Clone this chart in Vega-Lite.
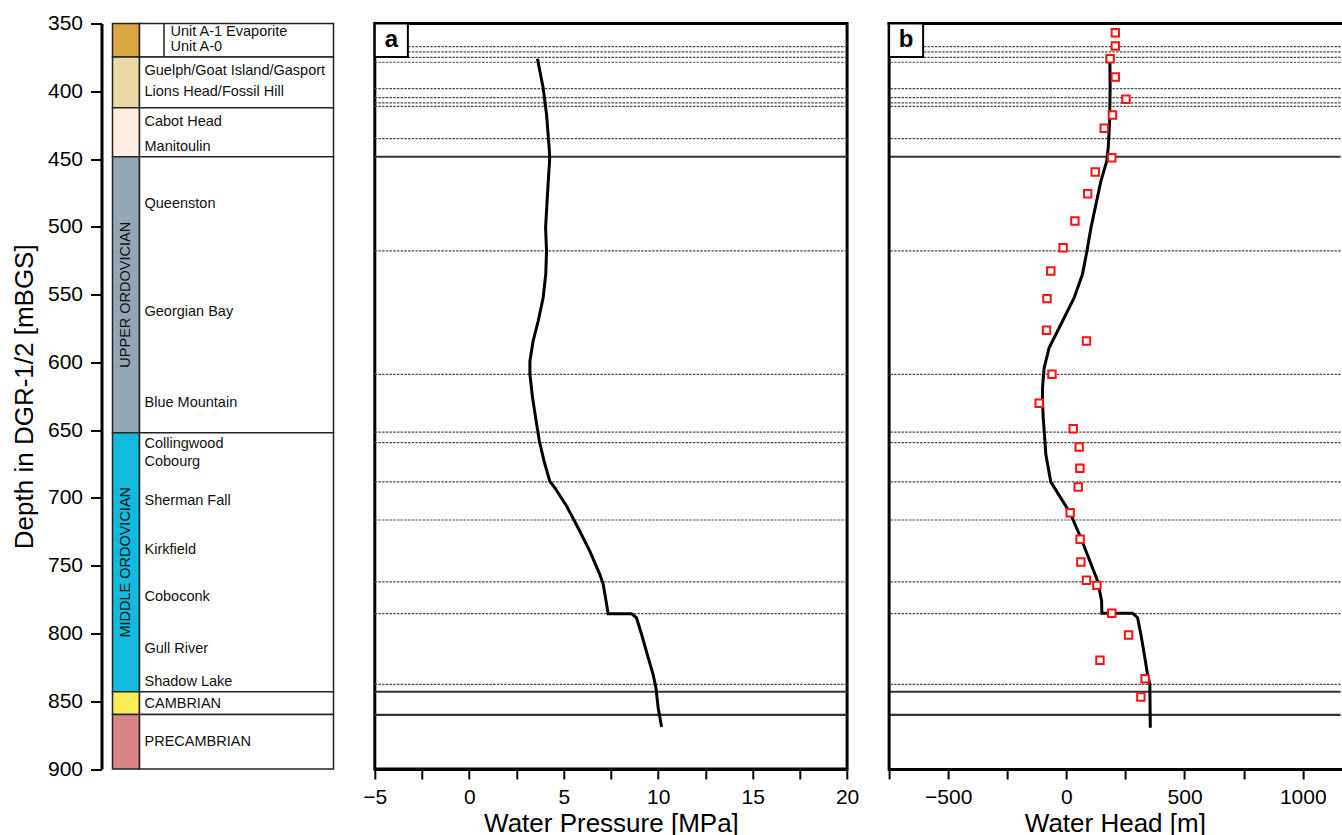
{
  "$schema": "https://vega.github.io/schema/vega-lite/v6.json",
  "padding": {"left": 10.5, "top": 12.5, "right": 0, "bottom": 0},
  "background": "white",
  "config": {
    "font": "Liberation Sans",
    "view": {"stroke": null},
    "axis": {
      "grid": false,
      "domainColor": "black",
      "tickColor": "black",
      "labelColor": "black",
      "titleColor": "black",
      "titleFontWeight": "normal",
      "labelFontSize": 21,
      "titleFontSize": 26,
      "domainWidth": 3,
      "tickWidth": 2,
      "labelFlush": false,
      "labelOverlap": false,
      "labelBound": false
    }
  },
  "datasets": {
    "strata": [
      {"unit": "Unit A", "top": 350, "bottom": 374.7},
      {"unit": "Guelph", "top": 374.7, "bottom": 412.1},
      {"unit": "Cabot Head", "top": 412.1, "bottom": 448.3},
      {"unit": "Upper Ordovician", "top": 448.3, "bottom": 651.9},
      {"unit": "Middle Ordovician", "top": 651.9, "bottom": 843},
      {"unit": "Cambrian", "top": 843, "bottom": 859.7},
      {"unit": "Precambrian", "top": 859.7, "bottom": 900}
    ],
    "formations": [
      {"name": "Unit A-1 Evaporite", "depth": 356.6, "unit": "Unit A"},
      {"name": "Unit A-0", "depth": 367.7, "unit": "Unit A"},
      {"name": "Guelph/Goat Island/Gasport", "depth": 385, "unit": "Guelph"},
      {"name": "Lions Head/Fossil Hill", "depth": 400.8, "unit": "Guelph"},
      {"name": "Cabot Head", "depth": 422.7, "unit": "Cabot Head"},
      {"name": "Manitoulin", "depth": 441, "unit": "Cabot Head"},
      {"name": "Queenston", "depth": 482.8, "unit": "Upper Ordovician"},
      {"name": "Georgian Bay", "depth": 563, "unit": "Upper Ordovician"},
      {"name": "Blue Mountain", "depth": 629.7, "unit": "Upper Ordovician"},
      {"name": "Collingwood", "depth": 659.9, "unit": "Middle Ordovician"},
      {"name": "Cobourg", "depth": 673.4, "unit": "Middle Ordovician"},
      {"name": "Sherman Fall", "depth": 702, "unit": "Middle Ordovician"},
      {"name": "Kirkfield", "depth": 738.5, "unit": "Middle Ordovician"},
      {"name": "Coboconk", "depth": 773.3, "unit": "Middle Ordovician"},
      {"name": "Gull River", "depth": 811.7, "unit": "Middle Ordovician"},
      {"name": "Shadow Lake", "depth": 835.9, "unit": "Middle Ordovician"},
      {"name": "CAMBRIAN", "depth": 852.1, "unit": "Cambrian"},
      {"name": "PRECAMBRIAN", "depth": 880.2, "unit": "Precambrian"}
    ],
    "eras": [
      {"name": "UPPER ORDOVICIAN", "depth": 550.1},
      {"name": "MIDDLE ORDOVICIAN", "depth": 747.5}
    ],
    "contacts": [
      {"depth": 367.1, "kind": "formation"},
      {"depth": 371.0, "kind": "formation"},
      {"depth": 375.0, "kind": "formation"},
      {"depth": 378.6, "kind": "formation"},
      {"depth": 398.1, "kind": "formation"},
      {"depth": 404.7, "kind": "formation"},
      {"depth": 408.6, "kind": "formation"},
      {"depth": 411.1, "kind": "formation"},
      {"depth": 435.0, "kind": "formation"},
      {"depth": 448.3, "kind": "system"},
      {"depth": 517.8, "kind": "formation"},
      {"depth": 608.8, "kind": "formation"},
      {"depth": 651.4, "kind": "formation"},
      {"depth": 659.2, "kind": "formation"},
      {"depth": 688.2, "kind": "formation"},
      {"depth": 716.3, "kind": "formation"},
      {"depth": 762.0, "kind": "formation"},
      {"depth": 785.4, "kind": "formation"},
      {"depth": 837.5, "kind": "formation"},
      {"depth": 843.0, "kind": "system"},
      {"depth": 860.0, "kind": "system"}
    ],
    "pressure": [
      {"depth": 376.0, "p": 3.61},
      {"depth": 397.4, "p": 3.91},
      {"depth": 417.0, "p": 4.09},
      {"depth": 441.6, "p": 4.23},
      {"depth": 449.0, "p": 4.26},
      {"depth": 476.0, "p": 4.14},
      {"depth": 500.6, "p": 4.04},
      {"depth": 517.8, "p": 4.09},
      {"depth": 535.0, "p": 4.05},
      {"depth": 552.3, "p": 3.91},
      {"depth": 569.5, "p": 3.65},
      {"depth": 584.2, "p": 3.38},
      {"depth": 599.0, "p": 3.21},
      {"depth": 608.8, "p": 3.21},
      {"depth": 626.0, "p": 3.35},
      {"depth": 643.2, "p": 3.54},
      {"depth": 658.0, "p": 3.71},
      {"depth": 672.8, "p": 3.96},
      {"depth": 687.6, "p": 4.26},
      {"depth": 692.5, "p": 4.53},
      {"depth": 706.0, "p": 5.15},
      {"depth": 722.0, "p": 5.76},
      {"depth": 739.2, "p": 6.38},
      {"depth": 756.4, "p": 6.91},
      {"depth": 763.7, "p": 7.09},
      {"depth": 778.5, "p": 7.27},
      {"depth": 785.4, "p": 7.35},
      {"depth": 785.4, "p": 8.59},
      {"depth": 788.4, "p": 8.85},
      {"depth": 800.6, "p": 9.12},
      {"depth": 817.9, "p": 9.47},
      {"depth": 830.1, "p": 9.73},
      {"depth": 840.0, "p": 9.88},
      {"depth": 854.8, "p": 10.0},
      {"depth": 869.0, "p": 10.18}
    ],
    "head": [
      {"depth": 378.9, "h": 184},
      {"depth": 397.4, "h": 185},
      {"depth": 421.9, "h": 183},
      {"depth": 441.6, "h": 177},
      {"depth": 451.4, "h": 171},
      {"depth": 466.2, "h": 146},
      {"depth": 483.4, "h": 125},
      {"depth": 500.6, "h": 104},
      {"depth": 517.8, "h": 87},
      {"depth": 535.0, "h": 68},
      {"depth": 552.3, "h": 33},
      {"depth": 571.9, "h": -23},
      {"depth": 589.2, "h": -73},
      {"depth": 604.0, "h": -94},
      {"depth": 618.7, "h": -101},
      {"depth": 628.5, "h": -101},
      {"depth": 640.8, "h": -98},
      {"depth": 650.6, "h": -94},
      {"depth": 667.8, "h": -87},
      {"depth": 688.2, "h": -66},
      {"depth": 710.9, "h": 15},
      {"depth": 729.4, "h": 61},
      {"depth": 761.3, "h": 132},
      {"depth": 776.0, "h": 149},
      {"depth": 785.1, "h": 150},
      {"depth": 785.1, "h": 280},
      {"depth": 788.4, "h": 301},
      {"depth": 800.6, "h": 315},
      {"depth": 817.9, "h": 332},
      {"depth": 830.1, "h": 343},
      {"depth": 837.5, "h": 353},
      {"depth": 869.5, "h": 355}
    ],
    "measured": [
      {"depth": 356.8, "h": 207},
      {"depth": 366.6, "h": 207},
      {"depth": 376.0, "h": 185},
      {"depth": 389.5, "h": 207},
      {"depth": 405.9, "h": 252},
      {"depth": 417.5, "h": 195},
      {"depth": 427.3, "h": 160},
      {"depth": 449.0, "h": 192},
      {"depth": 459.6, "h": 122},
      {"depth": 475.6, "h": 90},
      {"depth": 495.7, "h": 36},
      {"depth": 515.4, "h": -14},
      {"depth": 532.6, "h": -66},
      {"depth": 553.0, "h": -82},
      {"depth": 576.3, "h": -84},
      {"depth": 584.2, "h": 85},
      {"depth": 608.8, "h": -61},
      {"depth": 630.2, "h": -115},
      {"depth": 649.0, "h": 29},
      {"depth": 662.4, "h": 54},
      {"depth": 678.1, "h": 57},
      {"depth": 692.0, "h": 50},
      {"depth": 710.9, "h": 16},
      {"depth": 730.5, "h": 58},
      {"depth": 747.3, "h": 61},
      {"depth": 760.8, "h": 85},
      {"depth": 764.5, "h": 129},
      {"depth": 785.1, "h": 192},
      {"depth": 801.1, "h": 263},
      {"depth": 819.8, "h": 142},
      {"depth": 833.4, "h": 333},
      {"depth": 846.9, "h": 315}
    ]
  },
  "bounds": "flush",
  "spacing": 41.3,
  "resolve": {"scale": {"x": "independent", "y": "independent"}},
  "hconcat": [
    {
      "width": 221,
      "height": 745.5,
      "layer": [
        {
          "data": {"name": "strata"},
          "mark": {"type": "rect", "stroke": "#222", "strokeWidth": 1.5},
          "encoding": {
            "x": {"datum": 0, "type": "quantitative", "scale": {"domain": [0, 221], "nice": false, "zero": false}, "axis": null},
            "x2": {"datum": 27},
            "y": {
              "field": "top", "type": "quantitative",
              "scale": {"domain": [350, 900], "reverse": true, "nice": false, "zero": false},
              "axis": {
                "title": "Depth in DGR-1/2 [mBGS]",
                "values": [350, 400, 450, 500, 550, 600, 650, 700, 750, 800, 850, 900],
                "format": "d",
                "offset": 11,
                "tickSize": 11,
                "labelPadding": 8,
                "titlePadding": 10
              }
            },
            "y2": {"field": "bottom"},
            "fill": {
              "field": "unit", "type": "nominal", "legend": null,
              "scale": {
                "domain": ["Unit A", "Guelph", "Cabot Head", "Upper Ordovician", "Middle Ordovician", "Cambrian", "Precambrian"],
                "range": ["#D9A641", "#EBD9A5", "#FDEEE1", "#94A6B5", "#12BADD", "#FDEC55", "#DA8585"]
              }
            }
          }
        },
        {
          "data": {"name": "strata"},
          "mark": {"type": "rect", "fill": "white", "stroke": "#222", "strokeWidth": 1.5},
          "encoding": {
            "x": {"datum": 27, "type": "quantitative"},
            "x2": {"datum": 221},
            "y": {"field": "top", "type": "quantitative"},
            "y2": {"field": "bottom"}
          }
        },
        {
          "data": {"name": "strata"},
          "transform": [{"filter": "datum.unit === 'Unit A'"}],
          "mark": {"type": "rule", "stroke": "#222", "strokeWidth": 1.5},
          "encoding": {
            "x": {"datum": 51.5, "type": "quantitative"},
            "y": {"field": "top", "type": "quantitative"},
            "y2": {"field": "bottom"}
          }
        },
        {
          "data": {"name": "formations"},
          "transform": [{"filter": "datum.unit !== 'Unit A'"}],
          "mark": {"type": "text", "align": "left", "baseline": "middle", "fontSize": 14.5, "color": "#111"},
          "encoding": {
            "x": {"datum": 32, "type": "quantitative"},
            "y": {"field": "depth", "type": "quantitative"},
            "text": {"field": "name"}
          }
        },
        {
          "data": {"name": "formations"},
          "transform": [{"filter": "datum.unit === 'Unit A'"}],
          "mark": {"type": "text", "align": "left", "baseline": "middle", "fontSize": 14.5, "color": "#111"},
          "encoding": {
            "x": {"datum": 58, "type": "quantitative"},
            "y": {"field": "depth", "type": "quantitative"},
            "text": {"field": "name"}
          }
        },
        {
          "data": {"name": "eras"},
          "mark": {"type": "text", "align": "center", "baseline": "middle", "angle": 270, "fontSize": 14.5, "color": "#111"},
          "encoding": {
            "x": {"datum": 13.8, "type": "quantitative"},
            "y": {"field": "depth", "type": "quantitative"},
            "text": {"field": "name"}
          }
        }
      ]
    },
    {
      "width": 472.3,
      "height": 745.5,
      "view": {"stroke": "black", "strokeWidth": 3},
      "layer": [
        {
          "data": {"name": "contacts"},
          "transform": [{"filter": "datum.kind === 'formation'"}],
          "mark": {"type": "rule", "stroke": "#4a4a4a", "strokeWidth": 1.2, "strokeDash": [2.5, 1.2]},
          "encoding": {
            "y": {"field": "depth", "type": "quantitative", "scale": {"domain": [350, 900], "reverse": true, "nice": false, "zero": false}, "axis": null}
          }
        },
        {
          "data": {"name": "contacts"},
          "transform": [{"filter": "datum.kind === 'system'"}],
          "mark": {"type": "rule", "stroke": "#333", "strokeWidth": 2.2},
          "encoding": {
            "y": {"field": "depth", "type": "quantitative"}
          }
        },
        {
          "data": {"name": "pressure"},
          "mark": {"type": "line", "stroke": "black", "strokeWidth": 3},
          "encoding": {
            "x": {
              "field": "p", "type": "quantitative",
              "scale": {"domain": [-5, 20], "nice": false, "zero": false},
              "axis": {
                "title": "Water Pressure [MPa]",
                "values": [-5, -2.5, 0, 2.5, 5, 7.5, 10, 12.5, 15, 17.5, 20],
                "labelExpr": "datum.value % 5 === 0 ? format(datum.value, 'd') : ''",
                "tickSize": 10,
                "labelPadding": 7,
                "titlePadding": 3
              }
            },
            "y": {"field": "depth", "type": "quantitative"},
            "order": {"value": null}
          }
        },
        {
          "data": {"values": [{"panel": "a"}]},
          "mark": {"type": "rect", "fill": "white", "stroke": "black", "strokeWidth": 2},
          "encoding": {
            "x": {"datum": -5, "type": "quantitative"},
            "x2": {"datum": -3.25},
            "y": {"datum": 350, "type": "quantitative"},
            "y2": {"datum": 374.7}
          }
        },
        {
          "data": {"values": [{"panel": "a"}]},
          "mark": {"type": "text", "align": "center", "baseline": "middle", "fontSize": 24, "fontWeight": "bold", "color": "black"},
          "encoding": {
            "x": {"datum": -4.125, "type": "quantitative"},
            "y": {"datum": 362.3, "type": "quantitative"},
            "text": {"field": "panel"}
          }
        }
      ]
    },
    {
      "width": 451.5,
      "height": 745.5,
      "layer": [
        {
          "data": {"name": "contacts"},
          "transform": [{"filter": "datum.kind === 'formation'"}],
          "mark": {"type": "rule", "stroke": "#4a4a4a", "strokeWidth": 1.2, "strokeDash": [2.5, 1.2]},
          "encoding": {
            "y": {"field": "depth", "type": "quantitative", "scale": {"domain": [350, 900], "reverse": true, "nice": false, "zero": false}, "axis": null}
          }
        },
        {
          "data": {"name": "contacts"},
          "transform": [{"filter": "datum.kind === 'system'"}],
          "mark": {"type": "rule", "stroke": "#333", "strokeWidth": 2.2},
          "encoding": {
            "y": {"field": "depth", "type": "quantitative"}
          }
        },
        {
          "data": {"name": "head"},
          "mark": {"type": "line", "stroke": "black", "strokeWidth": 3},
          "encoding": {
            "x": {
              "field": "h", "type": "quantitative",
              "scale": {"domain": [-750, 1160], "nice": false, "zero": false},
              "axis": {
                "title": "Water Head [m]",
                "values": [-750, -500, -250, 0, 250, 500, 750, 1000],
                "labelExpr": "datum.value % 500 === 0 ? format(datum.value, 'd') : ''",
                "tickSize": 10,
                "labelPadding": 7,
                "titlePadding": 3,
                "domainCap": "square"
              }
            },
            "y": {"field": "depth", "type": "quantitative"},
            "order": {"value": null}
          }
        },
        {
          "data": {"name": "measured"},
          "mark": {"type": "point", "shape": "square", "size": 55, "filled": false, "fill": "white", "fillOpacity": 1, "stroke": "#ff1010", "strokeWidth": 2, "opacity": 1},
          "encoding": {
            "x": {"field": "h", "type": "quantitative"},
            "y": {"field": "depth", "type": "quantitative"}
          }
        },
        {
          "data": {"values": [{"edge": "top"}]},
          "mark": {"type": "rule", "stroke": "black", "strokeWidth": 3, "strokeCap": "square"},
          "encoding": {
            "y": {"datum": 350, "type": "quantitative"}
          }
        },
        {
          "data": {"values": [{"edge": "left"}]},
          "mark": {"type": "rule", "stroke": "black", "strokeWidth": 3, "strokeCap": "square"},
          "encoding": {
            "x": {"datum": -750, "type": "quantitative"}
          }
        },
        {
          "data": {"values": [{"panel": "b"}]},
          "mark": {"type": "rect", "fill": "white", "stroke": "black", "strokeWidth": 2},
          "encoding": {
            "x": {"datum": -750, "type": "quantitative"},
            "x2": {"datum": -606},
            "y": {"datum": 350, "type": "quantitative"},
            "y2": {"datum": 374.7}
          }
        },
        {
          "data": {"values": [{"panel": "b"}]},
          "mark": {"type": "text", "align": "center", "baseline": "middle", "fontSize": 24, "fontWeight": "bold", "color": "black"},
          "encoding": {
            "x": {"datum": -678, "type": "quantitative"},
            "y": {"datum": 362.3, "type": "quantitative"},
            "text": {"field": "panel"}
          }
        }
      ]
    }
  ]
}
